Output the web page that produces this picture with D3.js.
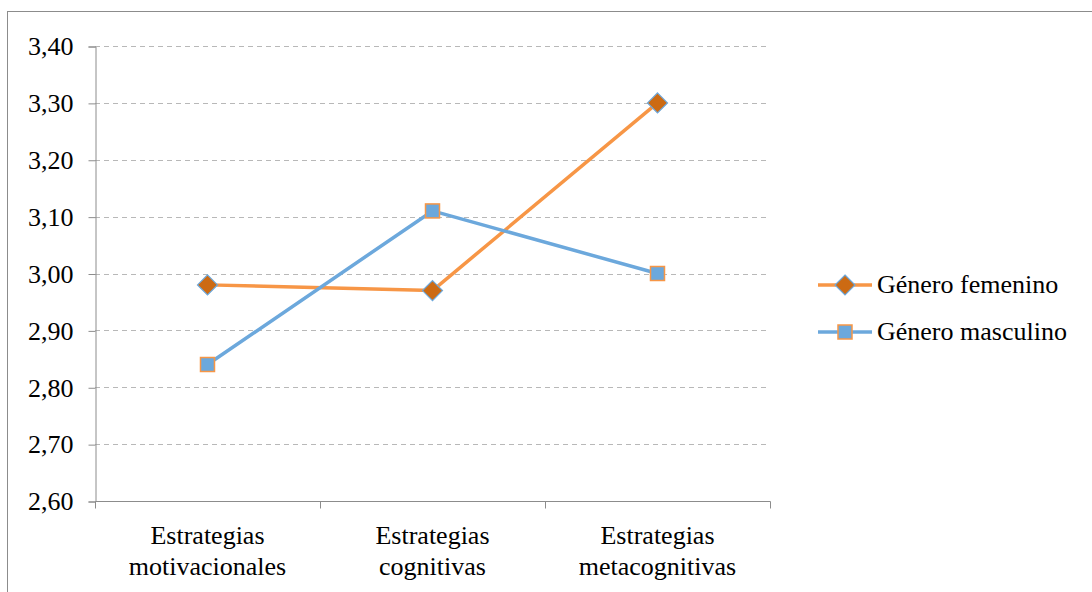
<!DOCTYPE html>
<html>
<head>
<meta charset="utf-8">
<script src="https://cdn.jsdelivr.net/npm/d3@7"></script>
<style>
  html, body { margin: 0; padding: 0; background: #fff; }
  svg { display: block; }
  svg text { font-family: "Liberation Serif", "Times New Roman", Times, serif; fill: #000; }
</style>
</head>
<body>
<svg id="chart" width="1092" height="592"></svg>
<script>
// Categories (two-line labels) and series values
const categories = [
  ["Estrategias", "motivacionales"],
  ["Estrategias", "cognitivas"],
  ["Estrategias", "metacognitivas"]
];
const femenino = [2.98, 2.97, 3.30];
const masculino = [2.84, 3.11, 3.00];
const seriesNames = ["Género femenino", "Género masculino"];
const yTicks = [2.60, 2.70, 2.80, 2.90, 3.00, 3.10, 3.20, 3.30, 3.40];

const svg = d3.select("#chart");
const W = 1092, H = 592;
const plot = { left: 95, right: 770, top: 46, bottom: 501 };
const FS = 26;

const orange = "#F79646", orangeDark = "#CC6A13", blue = "#6CA8DC";
const axisColor = "#8c8c8c", gridColor = "#b8b8b8";

// Outer frame
svg.append("rect")
  .attr("x", 7.5).attr("y", 11.5)
  .attr("width", W + 10).attr("height", H + 10)
  .attr("fill", "none").attr("stroke", "#8c8c8c").attr("stroke-width", 1);

const x = d3.scaleBand()
  .domain(d3.range(categories.length))
  .range([plot.left, plot.right])
  .paddingInner(0).paddingOuter(0);
const y = d3.scaleLinear().domain([2.60, 3.40]).range([plot.bottom, plot.top]);
const cx = i => x(i) + x.bandwidth() / 2;

const fmt = v => v.toFixed(2).replace(".", ",");

// Horizontal dashed gridlines
svg.append("g").selectAll("line")
  .data(yTicks.filter(t => t > 2.6))
  .join("line")
  .attr("x1", plot.left).attr("x2", plot.right)
  .attr("y1", d => Math.round(y(d)) + 0.5).attr("y2", d => Math.round(y(d)) + 0.5)
  .attr("stroke", gridColor).attr("stroke-width", 1)
  .attr("stroke-dasharray", "5,4");

// Y axis
const yAxis = d3.axisLeft(y).tickValues(yTicks).tickFormat(fmt).tickSize(7).tickPadding(15);
const gy = svg.append("g")
  .attr("transform", `translate(${plot.left + 0.5},0.5)`)
  .call(yAxis)
  .attr("font-family", null).attr("font-size", null);
gy.select(".domain").attr("stroke", axisColor);
gy.selectAll(".tick line").attr("stroke", axisColor);
gy.selectAll(".tick text")
  .style("font-size", FS + "px")
  .attr("fill", "#000");

// X axis baseline and ticks at band boundaries
const gx = svg.append("g").attr("transform", `translate(0.5,${plot.bottom + 0.5})`);
gx.append("line")
  .attr("x1", plot.left).attr("x2", plot.right)
  .attr("stroke", axisColor);
gx.selectAll("line.tk")
  .data(d3.range(categories.length + 1))
  .join("line").attr("class", "tk")
  .attr("x1", i => i < categories.length ? x(i) : x(i - 1) + x.bandwidth())
  .attr("x2", i => i < categories.length ? x(i) : x(i - 1) + x.bandwidth())
  .attr("y1", 0).attr("y2", 7)
  .attr("stroke", axisColor);

// Category labels
const catG = svg.append("g");
categories.forEach((lines, i) => {
  const t = catG.append("text")
    .attr("x", cx(i)).attr("y", 544)
    .attr("text-anchor", "middle")
    .style("font-size", FS + "px");
  lines.forEach((ln, k) => {
    t.append("tspan").attr("x", cx(i)).attr("dy", k === 0 ? 0 : 31).text(ln);
  });
});

// Lines
const line = d3.line().x((d, i) => cx(i)).y(d => y(d));
svg.append("path").datum(femenino)
  .attr("d", line).attr("fill", "none")
  .attr("stroke", orange).attr("stroke-width", 3.5).attr("stroke-linejoin", "round");
svg.append("path").datum(masculino)
  .attr("d", line).attr("fill", "none")
  .attr("stroke", blue).attr("stroke-width", 3.5).attr("stroke-linejoin", "round");

// Markers
const diamond = (g, px, py) => g.append("path")
  .attr("d", `M${px},${py - 10}L${px + 10},${py}L${px},${py + 10}L${px - 10},${py}Z`)
  .attr("fill", orangeDark).attr("stroke", blue).attr("stroke-width", 1.2);
const square = (g, px, py) => g.append("rect")
  .attr("x", px - 7).attr("y", py - 7).attr("width", 14).attr("height", 14)
  .attr("fill", blue).attr("stroke", orange).attr("stroke-width", 1.5);

const mk = svg.append("g");
femenino.forEach((v, i) => diamond(mk, cx(i), y(v)));
masculino.forEach((v, i) => square(mk, cx(i), y(v)));

// Legend
const leg = svg.append("g");
const legY = [285, 332];
const legColors = [orange, blue];
seriesNames.forEach((name, k) => {
  leg.append("line")
    .attr("x1", 818).attr("x2", 872)
    .attr("y1", legY[k]).attr("y2", legY[k])
    .attr("stroke", legColors[k]).attr("stroke-width", 3.5);
  if (k === 0) diamond(leg, 845, legY[k]); else square(leg, 845, legY[k]);
  leg.append("text")
    .attr("x", 877).attr("y", legY[k] + 8)
    .style("font-size", FS + "px")
    .text(name);
});
</script>
</body>
</html>
